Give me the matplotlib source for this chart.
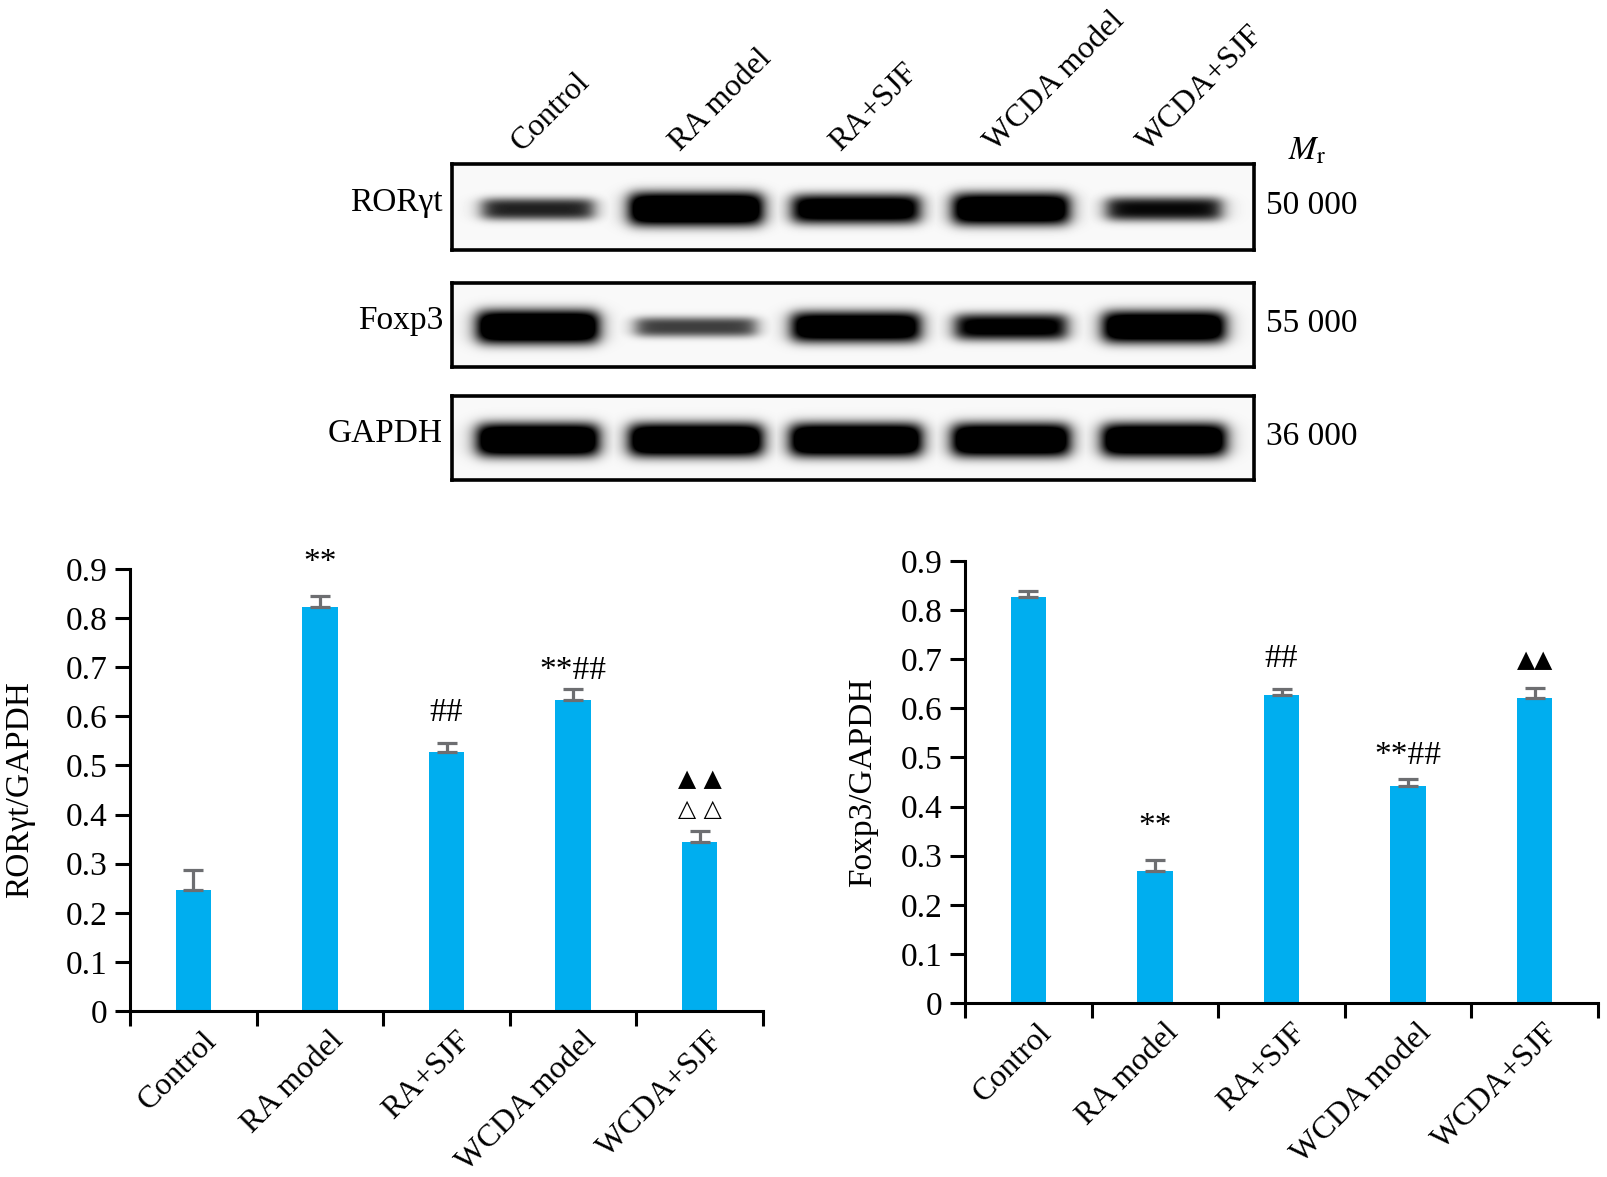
import numpy as np
import matplotlib
matplotlib.use("Agg")
import matplotlib.pyplot as plt
from matplotlib.transforms import ScaledTranslation

plt.rcParams["font.family"] = ["Liberation Serif", "DejaVu Sans"]
plt.rcParams["mathtext.fontset"] = "stix"

groups = ["Control", "RA model", "RA+SJF", "WCDA model", "WCDA+SJF"]

# quantification (band / GAPDH)
ror_mean = [0.246, 0.823, 0.528, 0.633, 0.345]
ror_err = [0.041, 0.023, 0.017, 0.023, 0.021]
ror_marks = ["", "**", "##", "**##", ""]

foxp3_mean = [0.826, 0.268, 0.627, 0.442, 0.622]
foxp3_err = [0.013, 0.024, 0.012, 0.014, 0.020]
foxp3_marks = ["", "**", "##", "**##", "▲▲"]

# western blot: protein names, Mr, relative band strength per lane
blot_names = ["RORγt", "Foxp3", "GAPDH"]
blot_mr = ["50 000", "55 000", "36 000"]
ror_band = [0.58, 1.0, 0.85, 0.95, 0.65]
foxp3_band = [1.0, 0.5, 0.9, 0.75, 0.95]
gapdh_band = [1.0, 1.0, 1.0, 1.0, 1.0]

W, H = 1607, 1177
BAR = "#00AEEF"
ERR = "#6d6e71"
FS = 24
FS_ROT = 23


def fx(x):
    return x / W


def fy(y):
    return 1 - y / H


fig = plt.figure(figsize=(W / 100, H / 100), dpi=100)

# ---------------- western blot panel ----------------
bx0, bx1 = 452, 1254
boxes = [(164, 250), (283, 367), (396, 480)]
lane_c = [538, 696, 856, 1011, 1164]
lane_w = [120, 132, 130, 116, 122]

for (yt, yb), levels, name, mr in zip(boxes, [ror_band, foxp3_band, gapdh_band], blot_names, blot_mr):
    bax = fig.add_axes([fx(bx0), fy(yb), fx(bx1) - fx(bx0), fy(yt) - fy(yb)])
    xs = np.arange(bx0, bx1) + 0.5
    ys = np.arange(yt, yb) + 0.5
    X, Y = np.meshgrid(xs, ys)
    dark = np.zeros_like(X)
    yc = (yt + yb) / 2 + 2
    for c, w, lv in zip(lane_c, lane_w, levels):
        half_w = w * (0.82 + 0.18 * lv) / 2
        half_h = 3 + 14 * lv
        px_ = 1 / (1 + np.exp(-(X - (c - half_w)) / 5)) * 1 / (1 + np.exp(((X - (c + half_w)) / 5)))
        py_ = np.exp(-(np.abs(Y - yc) / half_h) ** 3)
        dark = np.maximum(dark, np.clip(1.5 * lv * px_ * py_, 0, 1))
    img = 0.975 - 0.975 * dark
    bax.imshow(img, cmap="gray", vmin=0, vmax=1, extent=(bx0, bx1, yb, yt),
               origin="upper", aspect="auto", interpolation="bilinear")
    bax.set_xlim(bx0, bx1)
    bax.set_ylim(yb, yt)
    bax.set_xticks([])
    bax.set_yticks([])
    for s in bax.spines.values():
        s.set_linewidth(2.6)
        s.set_color("black")
    ym = (yt + yb) / 2
    fig.text(fx(443), fy(ym - 4), name, ha="right", va="center", fontsize=FS)
    fig.text(fx(1266), fy(ym - 1), mr, ha="left", va="center", fontsize=FS)

fig.text(fx(1288), fy(160), r"$M_{\mathrm{r}}$", ha="left", va="baseline", fontsize=FS)

for c, g in zip(lane_c, groups):
    fig.text(fx(c - 16), fy(152), g, rotation=45, ha="left", va="baseline",
             rotation_mode="anchor", fontsize=FS_ROT)


# ---------------- bar charts ----------------
def bar_chart(rect, means, errs, marks, ylabel, gaps, label_x):
    ax = fig.add_axes(rect)
    x = np.arange(len(groups))
    ax.bar(x, means, width=0.28, color=BAR, zorder=2)
    ax.errorbar(x, means, yerr=[np.zeros(len(errs)), errs], fmt="none", ecolor=ERR,
                elinewidth=2.3, capsize=7, capthick=2.3, zorder=3)
    ax.set_xlim(-0.5, len(groups) - 0.5)
    ax.set_ylim(0, 0.9)
    for s in ["top", "right"]:
        ax.spines[s].set_visible(False)
    for s in ["left", "bottom"]:
        ax.spines[s].set_linewidth(2.2)
    ax.set_yticks(np.arange(0, 0.91, 0.1))
    ax.set_yticklabels(["0"] + ["%.1f" % v for v in np.arange(0.1, 0.91, 0.1)])
    ax.tick_params(axis="y", direction="out", length=11, width=2.2, pad=5, labelsize=FS)
    ax.set_xticks(x)
    ax.set_xticklabels(groups)
    ax.set_xticks(np.arange(-0.5, len(groups)), minor=True)
    ax.tick_params(axis="x", which="major", length=0, pad=11, labelsize=FS_ROT)
    ax.tick_params(axis="x", which="minor", direction="out", length=11, width=2.2)
    off = ScaledTranslation(0.09, 0, fig.dpi_scale_trans)
    for lbl in ax.get_xticklabels():
        lbl.set_rotation(45)
        lbl.set_ha("right")
        lbl.set_va("top")
        lbl.set_rotation_mode("anchor")
        lbl.set_transform(lbl.get_transform() + off)
    ax.set_ylabel(ylabel, fontsize=FS)
    ax.yaxis.set_label_coords(label_x, 0.5)
    for xi, m, e, mk, g in zip(x, means, errs, marks, gaps):
        if not mk:
            continue
        if "▲" in mk:
            ax.text(xi, m + e + g, mk, ha="center", va="baseline", fontsize=17,
                    family="DejaVu Sans")
        else:
            ax.text(xi, m + e + g, mk, ha="center", va="baseline", fontsize=FS)
    return ax


ax1 = bar_chart([fx(130), fy(1011), fx(763) - fx(130), fy(569) - fy(1011)],
                ror_mean, ror_err, ror_marks, "RORγt/GAPDH",
                [0, 0.050, 0.045, 0.020, 0], -0.150)
# stacked triangles above WCDA+SJF
top5 = ror_mean[4] + ror_err[4]
ax1.text(4, top5 + 0.092, "▲ ▲", ha="center", va="baseline", fontsize=17, family="DejaVu Sans")
ax1.text(4, top5 + 0.032, "△ △", ha="center", va="baseline", fontsize=17, family="DejaVu Sans")

ax2 = bar_chart([fx(965), fy(1003), fx(1598) - fx(965), fy(561) - fy(1003)],
                foxp3_mean, foxp3_err, foxp3_marks, "Foxp3/GAPDH",
                [0, 0.050, 0.046, 0.031, 0.043], -0.138)

fig.savefig("out.png", dpi=100)
